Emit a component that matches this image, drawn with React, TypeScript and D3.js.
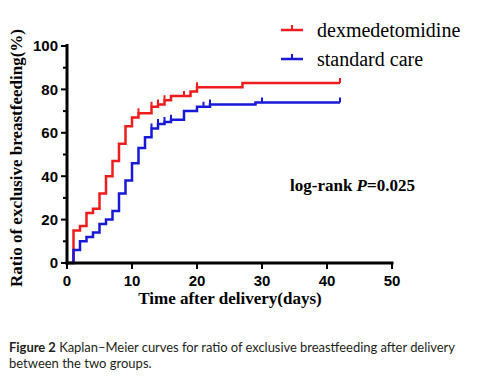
import React from "react";
import * as d3 from "d3";

const redTimes = [0, 1, 2, 3, 4, 5, 6, 7, 8, 9, 10, 11, 13, 14, 15, 16, 19, 20, 27, 42];
const redValues = [0, 15, 17, 23, 25, 32, 40, 47, 55, 63, 67, 69, 72, 73, 75, 77, 79, 81, 83, 83];
const redCensor = [11, 13, 14, 15, 18, 20, 42];

const blueTimes = [0, 1, 2, 3, 4, 5, 6, 7, 8, 9, 10, 11, 12, 13, 14, 15, 16, 18, 20, 22, 29, 42];
const blueValues = [0, 6, 10, 12, 14, 18, 20, 24, 32, 38, 46, 53, 58, 62, 64, 65, 66, 70, 72, 73, 74, 74];
const blueCensor = [13, 14, 15, 16, 21, 22, 30, 42];

const xTicks = [0, 10, 20, 30, 40, 50];
const yTicks = [0, 20, 40, 60, 80, 100];
const yMinorTicks = [10, 30, 50, 70, 90];

const seriesNames = ["dexmedetomidine", "standard care"];
const RED = "#ee1c1c";
const BLUE = "#1818d8";

export default function App() {
  const x = d3.scaleLinear().domain([0, 50]).range([67, 392]);
  const y = d3.scaleLinear().domain([0, 100]).range([263, 46]);

  const stepLine = d3
    .line<[number, number]>()
    .x((d) => x(d[0]))
    .y((d) => y(d[1]))
    .curve(d3.curveStepAfter);

  const levelAt = (times: number[], vals: number[], t: number) => {
    let v = vals[0];
    for (let i = 0; i < times.length; i++) if (times[i] <= t) v = vals[i];
    return v;
  };

  const series = [
    { times: redTimes, values: redValues, censor: redCensor, color: RED },
    { times: blueTimes, values: blueValues, censor: blueCensor, color: BLUE },
  ];

  const bold = "'Liberation Sans', Arial, sans-serif";
  const serif = "'Liberation Serif', 'Times New Roman', serif";

  return (
    <svg
      width={478}
      height={383}
      style={{ position: "absolute", left: 0, top: 0, background: "#fff" }}
    >
      <rect x={0} y={0} width={478} height={383} fill="#fff" />
      {series.map((s, i) => {
        const pts: [number, number][] = s.times.map((t, k) => [t, s.values[k]]);
        return (
          <g key={i}>
            <path d={stepLine(pts) || ""} fill="none" stroke={s.color} strokeWidth={2.5} />
            {s.censor.map((c, k) => {
              const v = levelAt(s.times, s.values, c);
              return (
                <line
                  key={k}
                  x1={x(c)}
                  x2={x(c)}
                  y1={y(v)}
                  y2={y(v) - 5}
                  stroke={s.color}
                  strokeWidth={2}
                />
              );
            })}
          </g>
        );
      })}

      {/* axes */}
      <line x1={67} x2={67} y1={44} y2={264.5} stroke="#000" strokeWidth={3} />
      <line x1={65.5} x2={393.5} y1={263} y2={263} stroke="#000" strokeWidth={3} />
      {yTicks.map((t) => (
        <g key={t}>
          <line x1={61} x2={67} y1={y(t)} y2={y(t)} stroke="#000" strokeWidth={2} />
          <text
            x={58}
            y={y(t)}
            dy="0.36em"
            textAnchor="end"
            fontFamily={bold}
            fontWeight="bold"
            fontSize={15}
          >
            {t}
          </text>
        </g>
      ))}
      {yMinorTicks.map((t) => (
        <line key={t} x1={63} x2={67} y1={y(t)} y2={y(t)} stroke="#000" strokeWidth={2} />
      ))}
      {xTicks.map((t) => (
        <g key={t}>
          <line x1={x(t)} x2={x(t)} y1={263} y2={269} stroke="#000" strokeWidth={2} />
          <text
            x={x(t)}
            y={286}
            textAnchor="middle"
            fontFamily={bold}
            fontWeight="bold"
            fontSize={15}
          >
            {t}
          </text>
        </g>
      ))}

      {/* axis titles */}
      <text
        transform="translate(22,158) rotate(-90)"
        textAnchor="middle"
        fontFamily={serif}
        fontWeight="bold"
        fontSize={17}
      >
        Ratio of exclusive breastfeeding(%)
      </text>
      <text
        x={230}
        y={304}
        textAnchor="middle"
        fontFamily={serif}
        fontWeight="bold"
        fontSize={17}
      >
        Time after delivery(days)
      </text>

      {/* legend */}
      {seriesNames.map((n, i) => {
        const ly = 30 + i * 29;
        const c = i === 0 ? RED : BLUE;
        return (
          <g key={n}>
            <line x1={281} x2={303} y1={ly} y2={ly} stroke={c} strokeWidth={2.5} />
            <line x1={292} x2={292} y1={ly} y2={ly - 5} stroke={c} strokeWidth={2} />
            <text x={317} y={ly + 7} fontFamily={serif} fontSize={20}>
              {n}
            </text>
          </g>
        );
      })}

      {/* log-rank */}
      <text x={290} y={191} fontFamily={serif} fontWeight="bold" fontSize={17}>
        log-rank <tspan fontStyle="italic">P</tspan>=0.025
      </text>

      {/* caption */}
      <text
        x={9}
        y={352}
        fontFamily="Lato, 'Open Sans', sans-serif"
        fontSize={13}
        fill="#231f20"
        textLength={446}
        lengthAdjust="spacing"
      >
        <tspan fontWeight="bold">Figure 2</tspan> Kaplan–Meier curves for ratio of exclusive
        breastfeeding after delivery
      </text>
      <text x={9} y={368} fontFamily="Lato, 'Open Sans', sans-serif" fontSize={13} fill="#231f20">
        between the two groups.
      </text>
    </svg>
  );
}
